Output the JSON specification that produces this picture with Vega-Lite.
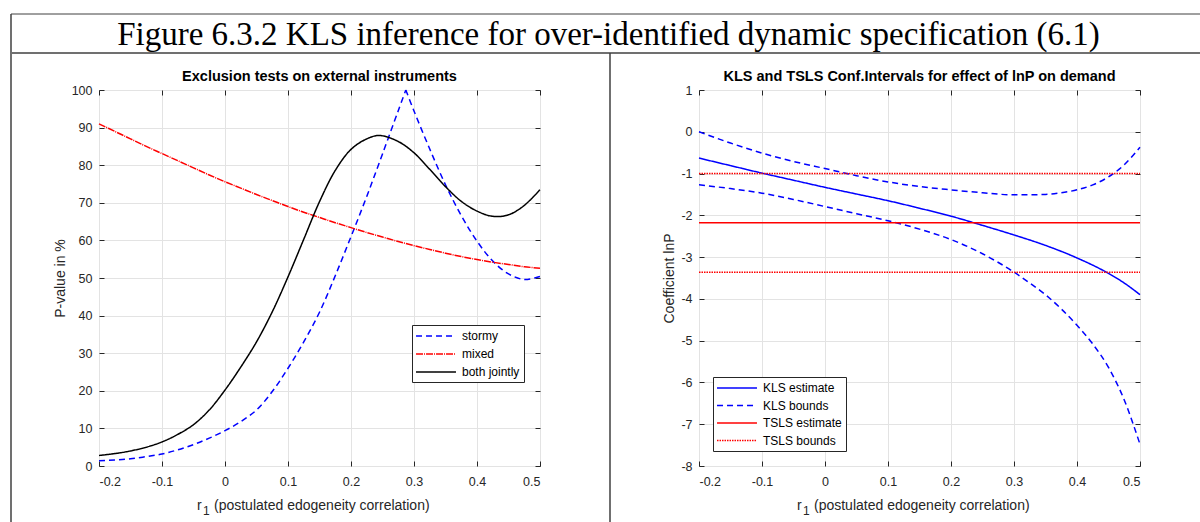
{
  "$schema": "https://vega.github.io/schema/vega-lite/v6.json",
  "padding": {"left": 9, "top": 12, "right": 0, "bottom": 0},
  "background": "white",
  "spacing": 159,
  "bounds": "flush",
  "resolve": {"scale": {"color": "independent", "strokeDash": "independent"}, "legend": {"color": "independent", "strokeDash": "independent"}},
  "datasets": {
    "left": [
      {"r": -0.2, "p": 1.4, "series": "stormy", "line": "s1"}, {"r": -0.175, "p": 1.6, "series": "stormy", "line": "s1"}, {"r": -0.15, "p": 1.9, "series": "stormy", "line": "s1"}, {"r": -0.125, "p": 2.5, "series": "stormy", "line": "s1"}, {"r": -0.1, "p": 3.2, "series": "stormy", "line": "s1"}, {"r": -0.075, "p": 4.3, "series": "stormy", "line": "s1"}, {"r": -0.05, "p": 5.7, "series": "stormy", "line": "s1"}, {"r": -0.025, "p": 7.4, "series": "stormy", "line": "s1"}, {"r": 0, "p": 9.4, "series": "stormy", "line": "s1"}, {"r": 0.025, "p": 11.8, "series": "stormy", "line": "s1"}, {"r": 0.05, "p": 14.9, "series": "stormy", "line": "s1"}, {"r": 0.075, "p": 19.8, "series": "stormy", "line": "s1"}, {"r": 0.1, "p": 26.0, "series": "stormy", "line": "s1"}, {"r": 0.125, "p": 33.0, "series": "stormy", "line": "s1"}, {"r": 0.15, "p": 40.9, "series": "stormy", "line": "s1"}, {"r": 0.175, "p": 50.6, "series": "stormy", "line": "s1"}, {"r": 0.2, "p": 61.0, "series": "stormy", "line": "s1"}, {"r": 0.225, "p": 71.7, "series": "stormy", "line": "s1"}, {"r": 0.25, "p": 83.0, "series": "stormy", "line": "s1"}, {"r": 0.275, "p": 94.5, "series": "stormy", "line": "s1"}, {"r": 0.287, "p": 100, "series": "stormy", "line": "s1"},
      {"r": 0.287, "p": 100, "series": "stormy", "line": "s2"}, {"r": 0.3, "p": 94.4, "series": "stormy", "line": "s2"}, {"r": 0.325, "p": 84.3, "series": "stormy", "line": "s2"}, {"r": 0.35, "p": 74.8, "series": "stormy", "line": "s2"}, {"r": 0.375, "p": 66.6, "series": "stormy", "line": "s2"}, {"r": 0.4, "p": 59.8, "series": "stormy", "line": "s2"}, {"r": 0.425, "p": 54.5, "series": "stormy", "line": "s2"}, {"r": 0.45, "p": 51.1, "series": "stormy", "line": "s2"}, {"r": 0.475, "p": 49.6, "series": "stormy", "line": "s2"}, {"r": 0.5, "p": 50.4, "series": "stormy", "line": "s2"},
      {"r": -0.2, "p": 91.0, "series": "mixed", "line": "m"}, {"r": -0.175, "p": 89.0, "series": "mixed", "line": "m"}, {"r": -0.15, "p": 87.0, "series": "mixed", "line": "m"}, {"r": -0.125, "p": 85.0, "series": "mixed", "line": "m"}, {"r": -0.1, "p": 83.1, "series": "mixed", "line": "m"}, {"r": -0.075, "p": 81.2, "series": "mixed", "line": "m"}, {"r": -0.05, "p": 79.3, "series": "mixed", "line": "m"}, {"r": -0.025, "p": 77.4, "series": "mixed", "line": "m"}, {"r": 0, "p": 75.6, "series": "mixed", "line": "m"}, {"r": 0.025, "p": 73.9, "series": "mixed", "line": "m"}, {"r": 0.05, "p": 72.2, "series": "mixed", "line": "m"}, {"r": 0.075, "p": 70.6, "series": "mixed", "line": "m"}, {"r": 0.1, "p": 69.0, "series": "mixed", "line": "m"}, {"r": 0.125, "p": 67.5, "series": "mixed", "line": "m"}, {"r": 0.15, "p": 66.1, "series": "mixed", "line": "m"}, {"r": 0.175, "p": 64.7, "series": "mixed", "line": "m"}, {"r": 0.2, "p": 63.4, "series": "mixed", "line": "m"}, {"r": 0.225, "p": 62.1, "series": "mixed", "line": "m"}, {"r": 0.25, "p": 60.9, "series": "mixed", "line": "m"}, {"r": 0.275, "p": 59.7, "series": "mixed", "line": "m"}, {"r": 0.3, "p": 58.6, "series": "mixed", "line": "m"}, {"r": 0.325, "p": 57.6, "series": "mixed", "line": "m"}, {"r": 0.35, "p": 56.6, "series": "mixed", "line": "m"}, {"r": 0.375, "p": 55.7, "series": "mixed", "line": "m"}, {"r": 0.4, "p": 54.9, "series": "mixed", "line": "m"}, {"r": 0.425, "p": 54.2, "series": "mixed", "line": "m"}, {"r": 0.45, "p": 53.6, "series": "mixed", "line": "m"}, {"r": 0.475, "p": 53.0, "series": "mixed", "line": "m"}, {"r": 0.5, "p": 52.6, "series": "mixed", "line": "m"},
      {"r": -0.2, "p": 2.8, "series": "both jointly", "line": "b"}, {"r": -0.175, "p": 3.3, "series": "both jointly", "line": "b"}, {"r": -0.15, "p": 4.0, "series": "both jointly", "line": "b"}, {"r": -0.125, "p": 5.0, "series": "both jointly", "line": "b"}, {"r": -0.1, "p": 6.4, "series": "both jointly", "line": "b"}, {"r": -0.075, "p": 8.4, "series": "both jointly", "line": "b"}, {"r": -0.05, "p": 11.0, "series": "both jointly", "line": "b"}, {"r": -0.025, "p": 14.9, "series": "both jointly", "line": "b"}, {"r": 0, "p": 20.2, "series": "both jointly", "line": "b"}, {"r": 0.025, "p": 26.3, "series": "both jointly", "line": "b"}, {"r": 0.05, "p": 33.0, "series": "both jointly", "line": "b"}, {"r": 0.075, "p": 41.0, "series": "both jointly", "line": "b"}, {"r": 0.1, "p": 50.3, "series": "both jointly", "line": "b"}, {"r": 0.125, "p": 60.3, "series": "both jointly", "line": "b"}, {"r": 0.15, "p": 70.3, "series": "both jointly", "line": "b"}, {"r": 0.175, "p": 78.6, "series": "both jointly", "line": "b"}, {"r": 0.2, "p": 84.2, "series": "both jointly", "line": "b"}, {"r": 0.225, "p": 87.0, "series": "both jointly", "line": "b"}, {"r": 0.245, "p": 87.9, "series": "both jointly", "line": "b"}, {"r": 0.275, "p": 86.3, "series": "both jointly", "line": "b"}, {"r": 0.3, "p": 83.3, "series": "both jointly", "line": "b"}, {"r": 0.325, "p": 78.9, "series": "both jointly", "line": "b"}, {"r": 0.35, "p": 74.3, "series": "both jointly", "line": "b"}, {"r": 0.375, "p": 70.4, "series": "both jointly", "line": "b"}, {"r": 0.4, "p": 67.8, "series": "both jointly", "line": "b"}, {"r": 0.425, "p": 66.4, "series": "both jointly", "line": "b"}, {"r": 0.45, "p": 66.8, "series": "both jointly", "line": "b"}, {"r": 0.475, "p": 69.3, "series": "both jointly", "line": "b"}, {"r": 0.5, "p": 73.5, "series": "both jointly", "line": "b"}
    ],
    "right": [
      {"r": -0.2, "coef": -0.63, "series": "KLS estimate", "line": "kls"}, {"r": -0.15, "coef": -0.81, "series": "KLS estimate", "line": "kls"}, {"r": -0.1, "coef": -0.99, "series": "KLS estimate", "line": "kls"}, {"r": -0.05, "coef": -1.16, "series": "KLS estimate", "line": "kls"}, {"r": 0, "coef": -1.33, "series": "KLS estimate", "line": "kls"}, {"r": 0.05, "coef": -1.49, "series": "KLS estimate", "line": "kls"}, {"r": 0.1, "coef": -1.65, "series": "KLS estimate", "line": "kls"}, {"r": 0.15, "coef": -1.83, "series": "KLS estimate", "line": "kls"}, {"r": 0.2, "coef": -2.02, "series": "KLS estimate", "line": "kls"}, {"r": 0.25, "coef": -2.24, "series": "KLS estimate", "line": "kls"}, {"r": 0.3, "coef": -2.47, "series": "KLS estimate", "line": "kls"}, {"r": 0.35, "coef": -2.72, "series": "KLS estimate", "line": "kls"}, {"r": 0.4, "coef": -3.02, "series": "KLS estimate", "line": "kls"}, {"r": 0.45, "coef": -3.39, "series": "KLS estimate", "line": "kls"}, {"r": 0.475, "coef": -3.62, "series": "KLS estimate", "line": "kls"}, {"r": 0.5, "coef": -3.9, "series": "KLS estimate", "line": "kls"},
      {"r": -0.2, "coef": 0.0, "series": "KLS bounds", "line": "kls_up"}, {"r": -0.15, "coef": -0.27, "series": "KLS bounds", "line": "kls_up"}, {"r": -0.1, "coef": -0.51, "series": "KLS bounds", "line": "kls_up"}, {"r": -0.05, "coef": -0.71, "series": "KLS bounds", "line": "kls_up"}, {"r": 0, "coef": -0.88, "series": "KLS bounds", "line": "kls_up"}, {"r": 0.05, "coef": -1.05, "series": "KLS bounds", "line": "kls_up"}, {"r": 0.1, "coef": -1.2, "series": "KLS bounds", "line": "kls_up"}, {"r": 0.15, "coef": -1.31, "series": "KLS bounds", "line": "kls_up"}, {"r": 0.2, "coef": -1.39, "series": "KLS bounds", "line": "kls_up"}, {"r": 0.25, "coef": -1.46, "series": "KLS bounds", "line": "kls_up"}, {"r": 0.3, "coef": -1.51, "series": "KLS bounds", "line": "kls_up"}, {"r": 0.35, "coef": -1.5, "series": "KLS bounds", "line": "kls_up"}, {"r": 0.375, "coef": -1.46, "series": "KLS bounds", "line": "kls_up"}, {"r": 0.4, "coef": -1.39, "series": "KLS bounds", "line": "kls_up"}, {"r": 0.425, "coef": -1.27, "series": "KLS bounds", "line": "kls_up"}, {"r": 0.45, "coef": -1.08, "series": "KLS bounds", "line": "kls_up"}, {"r": 0.475, "coef": -0.79, "series": "KLS bounds", "line": "kls_up"}, {"r": 0.5, "coef": -0.37, "series": "KLS bounds", "line": "kls_up"},
      {"r": -0.2, "coef": -1.27, "series": "KLS bounds", "line": "kls_lo"}, {"r": -0.15, "coef": -1.36, "series": "KLS bounds", "line": "kls_lo"}, {"r": -0.1, "coef": -1.47, "series": "KLS bounds", "line": "kls_lo"}, {"r": -0.05, "coef": -1.62, "series": "KLS bounds", "line": "kls_lo"}, {"r": 0, "coef": -1.79, "series": "KLS bounds", "line": "kls_lo"}, {"r": 0.05, "coef": -1.96, "series": "KLS bounds", "line": "kls_lo"}, {"r": 0.1, "coef": -2.13, "series": "KLS bounds", "line": "kls_lo"}, {"r": 0.15, "coef": -2.33, "series": "KLS bounds", "line": "kls_lo"}, {"r": 0.2, "coef": -2.58, "series": "KLS bounds", "line": "kls_lo"}, {"r": 0.25, "coef": -2.92, "series": "KLS bounds", "line": "kls_lo"}, {"r": 0.3, "coef": -3.36, "series": "KLS bounds", "line": "kls_lo"}, {"r": 0.325, "coef": -3.62, "series": "KLS bounds", "line": "kls_lo"}, {"r": 0.35, "coef": -3.9, "series": "KLS bounds", "line": "kls_lo"}, {"r": 0.375, "coef": -4.24, "series": "KLS bounds", "line": "kls_lo"}, {"r": 0.4, "coef": -4.63, "series": "KLS bounds", "line": "kls_lo"}, {"r": 0.425, "coef": -5.08, "series": "KLS bounds", "line": "kls_lo"}, {"r": 0.45, "coef": -5.64, "series": "KLS bounds", "line": "kls_lo"}, {"r": 0.475, "coef": -6.42, "series": "KLS bounds", "line": "kls_lo"}, {"r": 0.5, "coef": -7.48, "series": "KLS bounds", "line": "kls_lo"},
      {"r": -0.2, "coef": -2.18, "series": "TSLS estimate", "line": "tsls"}, {"r": 0.5, "coef": -2.18, "series": "TSLS estimate", "line": "tsls"},
      {"r": -0.2, "coef": -1.0, "series": "TSLS bounds", "line": "tsls_up"}, {"r": 0.5, "coef": -1.0, "series": "TSLS bounds", "line": "tsls_up"},
      {"r": -0.2, "coef": -3.36, "series": "TSLS bounds", "line": "tsls_lo"}, {"r": 0.5, "coef": -3.36, "series": "TSLS bounds", "line": "tsls_lo"}
    ]
  },
  "hconcat": [
    {
      "width": 441,
      "height": 376,
      "data": {"name": "left"},
      "resolve": {"axis": {"x": "independent", "y": "independent"}},
      "layer": [
        {
          "mark": {"type": "line", "strokeWidth": 1.5, "interpolate": "catmull-rom", "clip": false},
          "encoding": {
            "x": {"field": "r", "type": "quantitative", "scale": {"domain": [-0.2, 0.5], "nice": false, "zero": false},
                  "axis": {"orient": "bottom", "values": [-0.2, -0.1, 0, 0.1, 0.2, 0.3, 0.4, 0.5], "labelExpr": "datum.value < 0 ? '-' + format(-datum.value, '~g') : format(datum.value, '~g')", "title": null}},
            "y": {"field": "p", "type": "quantitative", "scale": {"domain": [0, 100], "nice": false, "zero": false},
                  "axis": {"orient": "left", "values": [0, 10, 20, 30, 40, 50, 60, 70, 80, 90, 100], "title": "P-value in %"}},
            "detail": {"field": "line", "type": "nominal"},
            "color": {"field": "series", "type": "nominal", "scale": {"domain": ["stormy", "mixed", "both jointly"], "range": ["#0000ff", "#ff0000", "#000000"]},
                      "legend": {"orient": "none", "legendX": 313, "legendY": 235, "title": null, "symbolType": "M-3.33,0H3.33", "symbolSize": 144, "symbolStrokeWidth": 1.5, "symbolOffset": 13, "labelOffset": 19, "padding": 4, "rowPadding": 5, "strokeColor": "#262626", "fillColor": "#ffffff", "cornerRadius": 0}},
            "strokeDash": {"field": "series", "type": "nominal", "scale": {"domain": ["stormy", "mixed", "both jointly"], "range": [[6, 4], [7, 1, 1, 1], [1, 0]]},
                      "legend": {"orient": "none", "legendX": 313, "legendY": 235, "title": null, "symbolType": "M-3.33,0H3.33", "symbolSize": 144, "symbolStrokeWidth": 1.5, "symbolOffset": 13, "labelOffset": 19, "padding": 4, "rowPadding": 5, "strokeColor": "#262626", "fillColor": "#ffffff", "cornerRadius": 0}}
          }
        },
        {
          "mark": {"type": "point", "opacity": 0},
          "encoding": {
            "x": {"field": "r", "type": "quantitative", "axis": {"orient": "top", "values": [-0.2, -0.1, 0, 0.1, 0.2, 0.3, 0.4, 0.5], "labels": false, "grid": false, "title": null, "minExtent": 0, "maxExtent": 0}},
            "y": {"field": "p", "type": "quantitative", "axis": {"orient": "right", "values": [0, 10, 20, 30, 40, 50, 60, 70, 80, 90, 100], "labels": false, "grid": false, "title": null, "minExtent": 0, "maxExtent": 0}}
          }
        },
        {
          "data": {"values": [{}]},
          "mark": {"type": "rule", "color": "#707070", "strokeWidth": 2, "clip": false},
          "encoding": {"x": {"datum": -0.33968, "type": "quantitative", "axis": null}, "y": {"datum": 120.21, "type": "quantitative", "axis": null}, "y2": {"datum": -15.42}}
        },
        {
          "data": {"values": [{}]},
          "mark": {"type": "rule", "color": "#404040", "strokeWidth": 1, "clip": false},
          "encoding": {"x": {"datum": -0.33968, "type": "quantitative", "axis": null}, "x2": {"datum": 1.5476}, "y": {"datum": 120.21, "type": "quantitative", "axis": null}}
        },
        {
          "data": {"values": [{}]},
          "mark": {"type": "rule", "color": "#707070", "strokeWidth": 2, "clip": false},
          "encoding": {"x": {"datum": -0.33968, "type": "quantitative", "axis": null}, "x2": {"datum": 1.5476}, "y": {"datum": 109.84, "type": "quantitative", "axis": null}}
        },
        {
          "data": {"values": [{}]},
          "mark": {"type": "rule", "color": "#404040", "strokeWidth": 1.5, "clip": false},
          "encoding": {"x": {"datum": 0.61111, "type": "quantitative", "axis": null}, "y": {"datum": 109.84, "type": "quantitative", "axis": null}, "y2": {"datum": -15.42}}
        },
        {
          "data": {"values": [{}]},
          "mark": {"type": "text", "font": "Liberation Serif", "fontSize": 33, "align": "center", "baseline": "middle", "color": "#000000", "clip": false},
          "encoding": {"x": {"datum": 0.6087, "type": "quantitative", "axis": null}, "y": {"datum": 114.5, "type": "quantitative", "axis": null}, "text": {"value": "Figure 6.3.2 KLS inference for over-identified dynamic specification (6.1)"}}
        },
        {
          "data": {"values": [{}]},
          "mark": {"type": "text", "font": "Liberation Sans", "fontSize": 14.5, "fontWeight": "bold", "align": "center", "baseline": "middle", "color": "#000000", "clip": false},
          "encoding": {"x": {"datum": 0.15, "type": "quantitative", "axis": null}, "y": {"datum": 103.46, "type": "quantitative", "axis": null}, "text": {"value": "Exclusion tests on external instruments"}}
        },
        {
          "data": {"values": [{}]},
          "mark": {"type": "text", "font": "Liberation Sans", "fontSize": 14, "align": "left", "baseline": "alphabetic", "color": "#262626", "clip": false},
          "encoding": {"x": {"datum": -0.04444, "type": "quantitative", "axis": null}, "y": {"datum": -11.7, "type": "quantitative", "axis": null}, "text": {"value": "r"}}
        },
        {
          "data": {"values": [{}]},
          "mark": {"type": "text", "font": "Liberation Sans", "fontSize": 12, "align": "left", "baseline": "alphabetic", "color": "#262626", "clip": false},
          "encoding": {"x": {"datum": -0.03492, "type": "quantitative", "axis": null}, "y": {"datum": -13.03, "type": "quantitative", "axis": null}, "text": {"value": "1"}}
        },
        {
          "data": {"values": [{}]},
          "mark": {"type": "text", "font": "Liberation Sans", "fontSize": 14, "align": "left", "baseline": "alphabetic", "color": "#262626", "clip": false},
          "encoding": {"x": {"datum": -0.01746, "type": "quantitative", "axis": null}, "y": {"datum": -11.7, "type": "quantitative", "axis": null}, "text": {"value": "(postulated edogeneity correlation)"}}
        }
      ]
    },
    {
      "width": 441,
      "height": 376,
      "data": {"name": "right"},
      "resolve": {"axis": {"x": "independent", "y": "independent"}},
      "layer": [
        {
          "mark": {"type": "line", "strokeWidth": 1.5, "interpolate": "monotone", "clip": false},
          "encoding": {
            "x": {"field": "r", "type": "quantitative", "scale": {"domain": [-0.2, 0.5], "nice": false, "zero": false},
                  "axis": {"orient": "bottom", "values": [-0.2, -0.1, 0, 0.1, 0.2, 0.3, 0.4, 0.5], "labelExpr": "datum.value < 0 ? '-' + format(-datum.value, '~g') : format(datum.value, '~g')", "title": null}},
            "y": {"field": "coef", "type": "quantitative", "scale": {"domain": [-8, 1], "nice": false, "zero": false},
                  "axis": {"orient": "left", "values": [-8, -7, -6, -5, -4, -3, -2, -1, 0, 1], "labelExpr": "datum.value < 0 ? '-' + format(-datum.value, '~g') : format(datum.value, '~g')", "title": "Coefficient lnP"}},
            "detail": {"field": "line", "type": "nominal"},
            "color": {"field": "series", "type": "nominal", "scale": {"domain": ["KLS estimate", "KLS bounds", "TSLS estimate", "TSLS bounds"], "range": ["#0000ff", "#0000ff", "#ff0000", "#ff0000"]},
                      "legend": {"orient": "none", "legendX": 14, "legendY": 287, "title": null, "symbolType": "M-3.33,0H3.33", "symbolSize": 144, "symbolStrokeWidth": 1.5, "symbolOffset": 13, "labelOffset": 19, "padding": 4, "rowPadding": 4.5, "strokeColor": "#262626", "fillColor": "#ffffff", "cornerRadius": 0}},
            "strokeDash": {"field": "series", "type": "nominal", "scale": {"domain": ["KLS estimate", "KLS bounds", "TSLS estimate", "TSLS bounds"], "range": [[1, 0], [6, 4], [1, 0], [1.5, 1]]},
                      "legend": {"orient": "none", "legendX": 14, "legendY": 287, "title": null, "symbolType": "M-3.33,0H3.33", "symbolSize": 144, "symbolStrokeWidth": 1.5, "symbolOffset": 13, "labelOffset": 19, "padding": 4, "rowPadding": 4.5, "strokeColor": "#262626", "fillColor": "#ffffff", "cornerRadius": 0}}
          }
        },
        {
          "mark": {"type": "point", "opacity": 0},
          "encoding": {
            "x": {"field": "r", "type": "quantitative", "axis": {"orient": "top", "values": [-0.2, -0.1, 0, 0.1, 0.2, 0.3, 0.4, 0.5], "labels": false, "grid": false, "title": null, "minExtent": 0, "maxExtent": 0}},
            "y": {"field": "coef", "type": "quantitative", "axis": {"orient": "right", "values": [-8, -7, -6, -5, -4, -3, -2, -1, 0, 1], "labels": false, "grid": false, "title": null, "minExtent": 0, "maxExtent": 0}}
          }
        },
        {
          "data": {"values": [{}]},
          "mark": {"type": "text", "font": "Liberation Sans", "fontSize": 14.5, "fontWeight": "bold", "align": "center", "baseline": "middle", "color": "#000000", "clip": false},
          "encoding": {"x": {"datum": 0.15, "type": "quantitative", "axis": null}, "y": {"datum": 1.311, "type": "quantitative", "axis": null}, "text": {"value": "KLS and TSLS Conf.Intervals for effect of lnP on demand"}}
        },
        {
          "data": {"values": [{}]},
          "mark": {"type": "text", "font": "Liberation Sans", "fontSize": 14, "align": "left", "baseline": "alphabetic", "color": "#262626", "clip": false},
          "encoding": {"x": {"datum": -0.04444, "type": "quantitative", "axis": null}, "y": {"datum": -9.053, "type": "quantitative", "axis": null}, "text": {"value": "r"}}
        },
        {
          "data": {"values": [{}]},
          "mark": {"type": "text", "font": "Liberation Sans", "fontSize": 12, "align": "left", "baseline": "alphabetic", "color": "#262626", "clip": false},
          "encoding": {"x": {"datum": -0.03492, "type": "quantitative", "axis": null}, "y": {"datum": -9.173, "type": "quantitative", "axis": null}, "text": {"value": "1"}}
        },
        {
          "data": {"values": [{}]},
          "mark": {"type": "text", "font": "Liberation Sans", "fontSize": 14, "align": "left", "baseline": "alphabetic", "color": "#262626", "clip": false},
          "encoding": {"x": {"datum": -0.01746, "type": "quantitative", "axis": null}, "y": {"datum": -9.053, "type": "quantitative", "axis": null}, "text": {"value": "(postulated edogeneity correlation)"}}
        }
      ]
    }
  ],
  "config": {
    "font": "Liberation Sans",
    "view": {"stroke": "#262626", "strokeWidth": 1},
    "axis": {
      "labelFont": "Liberation Sans", "labelFontSize": 12.5, "labelColor": "#262626",
      "titleFont": "Liberation Sans", "titleFontSize": 14, "titleFontWeight": "normal", "titleColor": "#262626",
      "gridColor": "#e3e3e3", "gridWidth": 1, "grid": true, "domain": false,
      "tickColor": "#262626", "tickSize": -5, "tickWidth": 1
    },
    "axisX": {"labelPadding": 14, "titlePadding": 6},
    "axisY": {"labelPadding": 12, "titlePadding": 4},
    "legend": {"labelFont": "Liberation Sans", "labelFontSize": 12, "labelColor": "#000000"}
  }
}
